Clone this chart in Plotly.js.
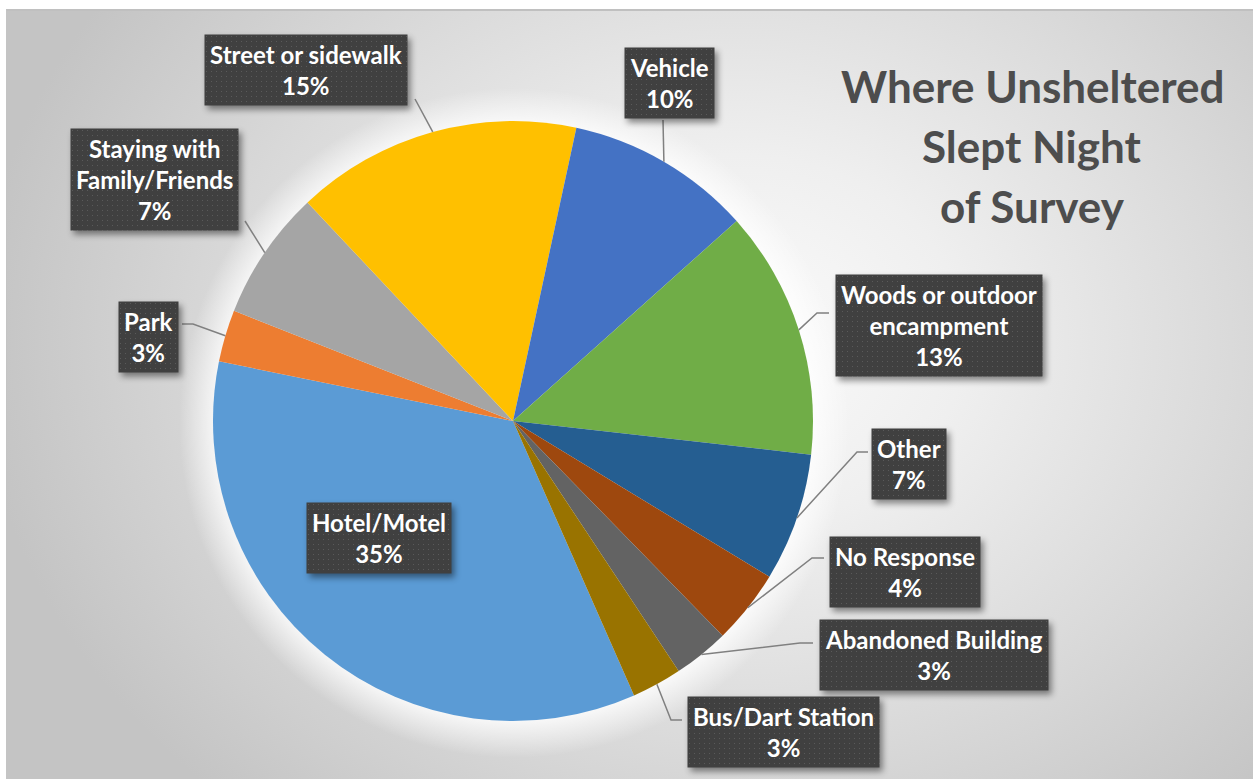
<!DOCTYPE html>
<html>
<head>
<meta charset="utf-8">
<script src="https://cdn.plot.ly/plotly-3.0.1.min.js"></script>
<style>
  html, body { margin: 0; padding: 0; background: #ffffff; }
  #wrap { position: relative; width: 1253px; height: 779px; overflow: hidden; }
  #bg {
    position: absolute; left: 6px; top: 9px; width: 1247px; height: 770px;
    box-sizing: border-box; border-top: 2px solid #c0c0c0; border-left: 1px solid #c4c4c4;
    background:
      radial-gradient(circle 335px at 507px 412px, rgba(255,255,255,0.8) 298px, rgba(255,255,255,0) 335px),
      radial-gradient(ellipse 760px 620px at 730px 330px, #fbfbfb 0%, #efefef 30%, #dadada 65%, #c4c4c4 100%);
  }
  #chart { position: absolute; left: 0; top: 0; width: 1253px; height: 779px; }
  .annotation rect.bg { filter: drop-shadow(3px 4px 3px rgba(0,0,0,0.45)); }
</style>
</head>
<body>
<div id="wrap">
  <div id="bg"></div>
  <div id="chart"></div>
</div>
<script>
// ---------------- data ----------------
const categories = ['Hotel/Motel', 'Park', 'Staying with Family/Friends', 'Street or sidewalk',
  'Vehicle', 'Woods or outdoor encampment', 'Other', 'No Response', 'Abandoned Building', 'Bus/Dart Station'];
const labelText = ['Hotel/Motel', 'Park', 'Staying with<br>Family/Friends', 'Street or sidewalk',
  'Vehicle', 'Woods or outdoor<br>encampment', 'Other', 'No Response', 'Abandoned Building', 'Bus/Dart Station'];
const shares = [34.8, 2.8, 7.0, 15.4, 10.0, 13.4, 6.9, 4.0, 3.0, 2.7];
const sliceColors = ['#5B9BD5', '#ED7D31', '#A5A5A5', '#FFC000', '#4472C4', '#70AD47', '#255E91', '#9E480E', '#636363', '#997300'];
const chartTitleLines = ['Where Unsheltered', 'Slept Night', 'of Survey'];

// ---------------- layout settings ----------------
const W = 1253, H = 779;
const pieCx = 513, pieCy = 421, pieR = 300;
const rotation = 156.2;
// label box centres and leader anchor/elbow points (pixels)
const boxes = [
  {cx: 379, cy: 538, leader: null},
  {cx: 148.5, cy: 337, leader: [[182, 324], [193, 324]]},
  {cx: 154, cy: 179, leader: [[245, 221]]},
  {cx: 305.5, cy: 70, leader: [[415, 99]]},
  {cx: 669, cy: 83, leader: [[663, 120]]},
  {cx: 939, cy: 325.5, leader: [[829, 313], [817, 313]]},
  {cx: 908.5, cy: 464, leader: [[868, 452], [857, 452]]},
  {cx: 904.5, cy: 571.5, leader: [[824, 558], [812, 558]]},
  {cx: 933.5, cy: 655, leader: [[813, 643], [800, 643]]},
  {cx: 783, cy: 732, leader: [[682, 720], [671, 720]]}
];

const px = x => x / W;
const py = y => 1 - y / H;

const total = shares.reduce((a, b) => a + b, 0);
const annotations = [];
const shapes = [];
let cum = 0;
shares.forEach((v, i) => {
  const mid = (rotation + (cum + v / 2) / total * 360) * Math.PI / 180;
  cum += v;
  const ex = pieCx + pieR * Math.sin(mid);
  const ey = pieCy - pieR * Math.cos(mid);
  const pct = Math.round(v / total * 100) + '%';
  const b = boxes[i];
  annotations.push({
    xref: 'paper', yref: 'paper', x: px(b.cx), y: py(b.cy),
    xanchor: 'center', yanchor: 'middle', showarrow: false,
    text: '<b>' + labelText[i] + '<br>' + pct + '</b>',
    font: {family: 'Lato, "Open Sans", sans-serif', size: 24, color: '#ffffff'},
    bgcolor: '#404040', borderpad: 5, align: 'center'
  });
  if (b.leader) {
    const pts = b.leader.concat([[ex, ey]]);
    const path = pts.map((p, k) => (k ? 'L ' : 'M ') + px(p[0]) + ' ' + py(p[1])).join(' ');
    shapes.push({type: 'path', xref: 'paper', yref: 'paper', path: path,
      line: {color: '#808080', width: 1.5}});
  }
});

chartTitleLines.forEach((t, k) => {
  annotations.push({
    xref: 'paper', yref: 'paper', x: px(1032), y: py(86 + k * 60),
    xanchor: 'center', yanchor: 'middle', showarrow: false,
    text: '<b>' + t + '</b>',
    font: {family: 'Lato, "Open Sans", sans-serif', size: 44, color: '#4d4d4d'}
  });
});

const trace = {
  type: 'pie',
  labels: categories,
  values: shares,
  sort: false,
  direction: 'clockwise',
  rotation: rotation,
  marker: {colors: sliceColors, line: {width: 0}},
  textinfo: 'none',
  hoverinfo: 'label+percent',
  showlegend: false,
  domain: {x: [px(pieCx - pieR), px(pieCx + pieR)], y: [py(pieCy + pieR), py(pieCy - pieR)]}
};

const layout = {
  width: W, height: H,
  margin: {l: 0, r: 0, t: 0, b: 0},
  paper_bgcolor: 'rgba(0,0,0,0)',
  plot_bgcolor: 'rgba(0,0,0,0)',
  showlegend: false,
  annotations: annotations,
  shapes: shapes
};

Plotly.newPlot('chart', [trace], layout, {displayModeBar: false, staticPlot: true}).then(gd => {
  const svg = gd.querySelector('svg.main-svg');
  const ns = 'http://www.w3.org/2000/svg';
  const defs = document.createElementNS(ns, 'defs');
  defs.innerHTML = '<pattern id="dots" width="5" height="5" patternUnits="userSpaceOnUse">' +
    '<rect width="5" height="5" fill="#404040"/><rect x="2" y="2" width="1" height="1" fill="#5a5a5a"/></pattern>';
  svg.insertBefore(defs, svg.firstChild);
  gd.querySelectorAll('.annotation rect.bg').forEach((r, k) => {
    if (k < shares.length) r.style.fill = 'url(#dots)';
  });
});
</script>
</body>
</html>
